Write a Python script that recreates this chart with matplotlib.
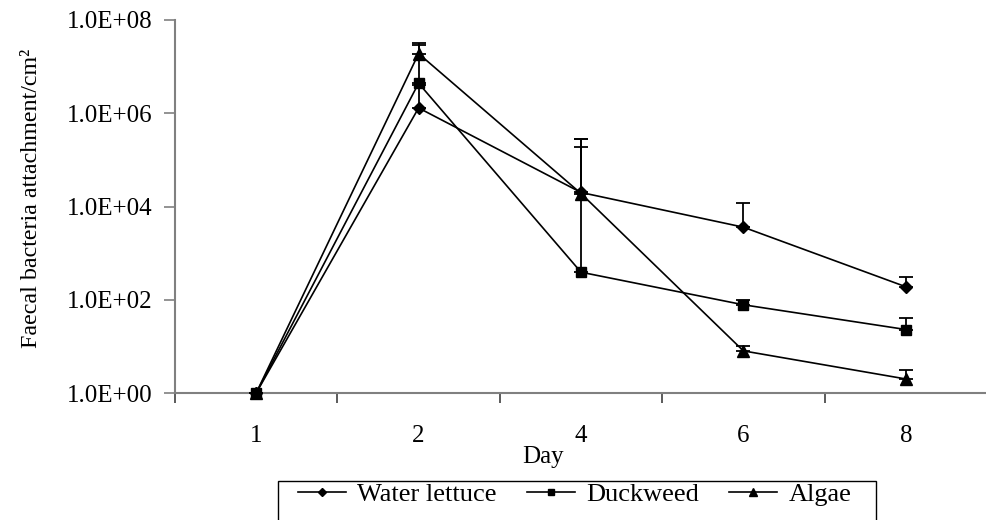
import numpy as np
import matplotlib
matplotlib.use("Agg")
import matplotlib.pyplot as plt
from matplotlib.lines import Line2D
from matplotlib.patches import Rectangle

plt.rcParams["font.family"] = ["Liberation Serif", "DejaVu Serif"]

days = ["1", "2", "4", "6", "8"]

water_lettuce = [1.0, 1.3e6, 2.0e4, 3.6e3, 1.9e2]
water_lettuce_upper = [1.0, 4.0e6, 2.8e5, 1.2e4, 3.1e2]

duckweed = [1.0, 4.4e6, 3.9e2, 78, 23]
duckweed_upper = [1.0, 2.9e7, 1.9e5, 100, 40]

algae = [1.0, 1.9e7, 1.9e4, 8.0, 2.0]
algae_upper = [1.0, 3.2e7, 2.8e5, 10.0, 3.1]

series = [
    ("Water lettuce", water_lettuce, water_lettuce_upper, "D", 6.2),
    ("Duckweed", duckweed, duckweed_upper, "s", 7.2),
    ("Algae", algae, algae_upper, "^", 9.0),
]

FS = 18
W, H = 987, 520
fig = plt.figure(figsize=(W / 100, H / 100), dpi=100)
left_px, right_px, top_px, bottom_px = 175, 987, 20, 393
ax = fig.add_axes([left_px / W, 1 - bottom_px / H,
                   (right_px - left_px) / W, (bottom_px - top_px) / H])

x = np.arange(len(days))
for name, vals, upper, marker, ms in series:
    vals = np.array(vals)
    up = np.array(upper) - vals
    ax.errorbar(x, vals, yerr=[np.zeros_like(vals), up], fmt="none",
                ecolor="black", elinewidth=1.3, capsize=5, capthick=1.3,
                zorder=3, clip_on=False)
    ax.plot(x, vals, color="black", lw=1.2, marker=marker, ms=ms,
            mfc="black", mec="black", zorder=4, clip_on=False)

ax.set_yscale("log")
ax.set_ylim(1, 1e8)
ax.set_xlim(-0.5, 4.5 - 4 / 163.3)

yt = [1, 1e2, 1e4, 1e6, 1e8]
ax.set_yticks(yt)
ax.set_yticklabels(["1.0E+00", "1.0E+02", "1.0E+04", "1.0E+06", "1.0E+08"])
ax.yaxis.set_minor_locator(matplotlib.ticker.NullLocator())
ax.tick_params(axis="y", which="major", length=8, width=1.2, color="#808080",
               labelsize=FS, pad=8)

ax.set_xticks(np.arange(-0.5, len(days), 1.0))
ax.set_xticklabels([])
ax.set_xticks(x, minor=True)
ax.set_xticklabels(days, minor=True)
ax.tick_params(axis="x", which="major", length=7, width=1.2, color="#404040",
               direction="out")
ax.tick_params(axis="x", which="minor", length=0, labelsize=FS, pad=23)

for side in ["top", "right"]:
    ax.spines[side].set_visible(False)
for side in ["left", "bottom"]:
    ax.spines[side].set_color("#808080")
    ax.spines[side].set_linewidth(1.5)

fig.text(543 / W, 1 - 457 / H, "Day", ha="center", va="center", fontsize=FS)
fig.text(32 / W, 1 - 198 / H, "Faecal bacteria attachment/cm²",
         rotation=90, ha="center", va="center", fontsize=17.3)

# legend frame, running past the bottom edge of the figure
fig.patches.append(Rectangle((278 / W, -0.1), (876 - 278) / W,
                             0.1 + 1 - 481 / H, transform=fig.transFigure,
                             fill=False, edgecolor="black", lw=1.0))

handles = [Line2D([0], [0], color="black", lw=1.2, marker=m, ms=ms * 0.6,
                  mfc="black", mec="black") for _, _, _, m, ms in series]
leg = fig.legend(handles, [s[0] for s in series], ncol=3, loc="upper left",
                 bbox_to_anchor=(298 / W, 1 - 483 / H), fontsize=19,
                 frameon=False, handlelength=1.82, handletextpad=0.42,
                 columnspacing=1.15, borderpad=0, borderaxespad=0)

fig.savefig("out.png", dpi=100)
